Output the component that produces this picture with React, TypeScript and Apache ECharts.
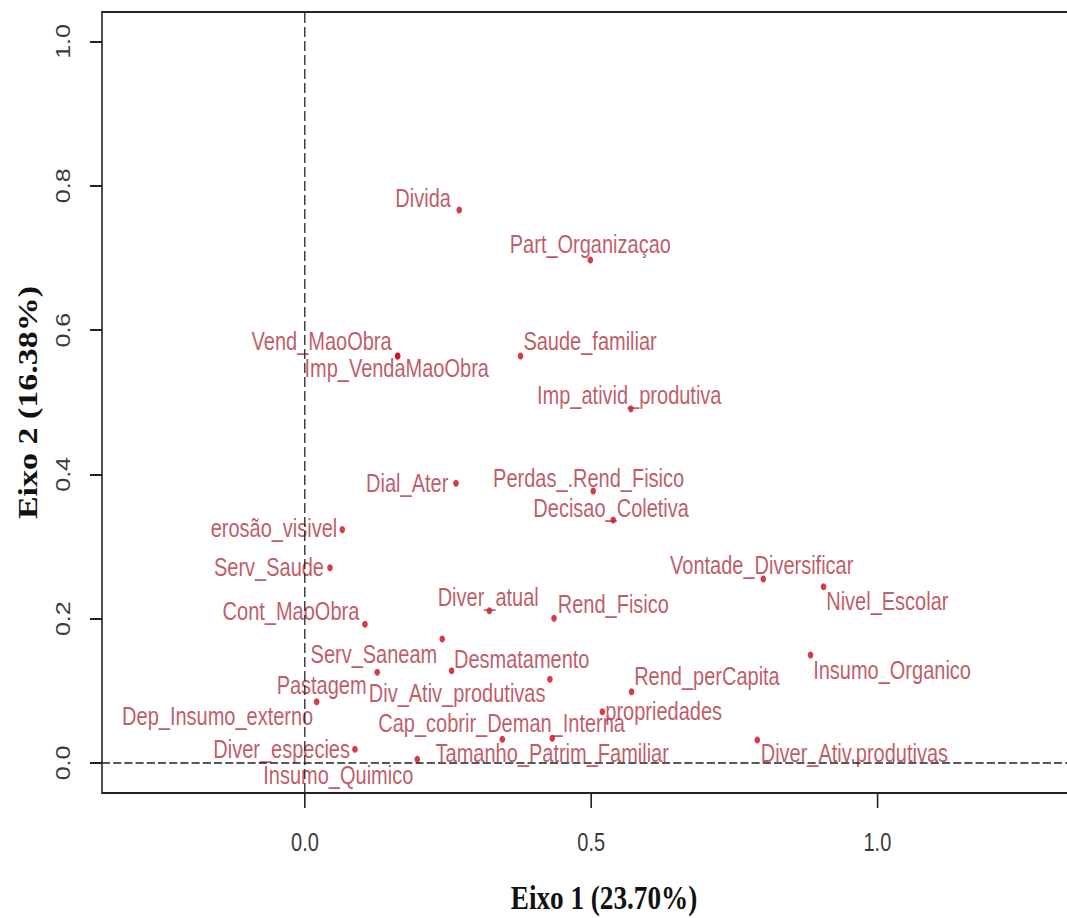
import React, { useEffect, useRef } from "react";
import * as echarts from "echarts";

// ---- data ----
const names = [
  "Divida",
  "Part_Organizaçao",
  "Vend_MaoObra",
  "Imp_VendaMaoObra",
  "Saude_familiar",
  "Imp_ativid_produtiva",
  "Dial_Ater",
  "Perdas_.Rend_Fisico",
  "Decisao_Coletiva",
  "erosão_visivel",
  "Serv_Saude",
  "Vontade_Diversificar",
  "Nivel_Escolar",
  "Cont_MaoObra",
  "Diver_atual",
  "Rend_Fisico",
  "Serv_Saneam",
  "Desmatamento",
  "Insumo_Organico",
  "Pastagem",
  "Div_Ativ_produtivas",
  "Rend_perCapita",
  "Dep_Insumo_externo",
  "Cap_cobrir_Deman_Interna",
  "propriedades",
  "Diver_especies",
  "Tamanho_Patrim_Familiar",
  "Diver_Ativ.produtivas",
  "Insumo_Quimico",
];

const eixo1 = [
  0.2695, 0.4985, 0.1619, 0.1619, 0.3766, 0.5693, 0.2638, 0.5036, 0.5385,
  0.0652, 0.0437, 0.8007, 0.906, 0.1048, 0.3221, 0.4351, 0.2398, 0.2562,
  0.8832, 0.1263, 0.4279, 0.5705, 0.0204, 0.3448, 0.5195, 0.0873, 0.432,
  0.7902, 0.1962,
];

const eixo2 = [
  0.7665, 0.6972, 0.5641, 0.5641, 0.5641, 0.4911, 0.3877, 0.377, 0.3368,
  0.3235, 0.2707, 0.255, 0.2444, 0.1922, 0.2111, 0.2006, 0.1719, 0.1279,
  0.1497, 0.1257, 0.116, 0.0988, 0.085, 0.0328, 0.0711, 0.019, 0.0342,
  0.0319, 0.0051,
];

const xTicks = [0, 0.5, 1.0];
const yTicks = [0, 0.2, 0.4, 0.6, 0.8, 1.0];

const xTitle = "Eixo 1 (23.70%)";
const yTitle = "Eixo 2 (16.38%)";

// ---- label placement (layout only) : [align, dx, dy] in chart px ----
type Align = "left" | "right" | "center";
const labelPlacement: Record<string, [Align, number, number]> = {
  Divida: ["right", -10.4, -11],
  "Part_Organizaçao": ["center", 0, -15],
  Vend_MaoObra: ["right", -7.5, -14.3],
  Imp_VendaMaoObra: ["center", -1.2, 13],
  Saude_familiar: ["left", 3.6, -14.3],
  Imp_ativid_produtiva: ["center", -2, -12.7],
  Dial_Ater: ["right", -9.6, 0.7],
  "Perdas_.Rend_Fisico": ["center", -5.8, -12],
  Decisao_Coletiva: ["center", -2.6, -11],
  "erosão_visivel": ["right", -6.25, -1],
  Serv_Saude: ["right", -7.5, 0],
  Vontade_Diversificar: ["center", -2, -13.3],
  Nivel_Escolar: ["left", 3.3, 15],
  Cont_MaoObra: ["right", -7.1, -12.6],
  Diver_atual: ["center", -1.4, -13.4],
  Rend_Fisico: ["left", 4.7, -13.3],
  Serv_Saneam: ["right", -6.25, 16],
  Desmatamento: ["left", 2.9, -10.7],
  Insumo_Organico: ["left", 3.3, 15.7],
  Pastagem: ["right", -13.3, 13.4],
  Div_Ativ_produtivas: ["right", -5.6, 14],
  Rend_perCapita: ["left", 3.3, -15],
  Dep_Insumo_externo: ["right", -4.25, 15],
  Cap_cobrir_Deman_Interna: ["center", -0.9, -15.3],
  propriedades: ["left", 3.75, 0],
  Diver_especies: ["right", -6.25, 0],
  Tamanho_Patrim_Familiar: ["center", 0, 15],
  "Diver_Ativ.produtivas": ["left", 4.25, 13.3],
  Insumo_Quimico: ["right", -5, 16.7],
};

// the reference picture is horizontally squeezed
const SQUEEZE = 0.8;
const PAGE_W = 1067;
const PAGE_H = 918;
const DOT = 7;

export default function App() {
  const ref = useRef<HTMLDivElement>(null);

  useEffect(() => {
    if (!ref.current) return;
    const chart = echarts.init(ref.current, undefined, { renderer: "svg" });

    const half = DOT / 2;
    const data = names.map((n, i) => {
      const p = labelPlacement[n] || ["left", 4, 0];
      return {
        name: n,
        value: [eixo1[i], eixo2[i]],
        label: { align: p[0], position: [half + p[1], half + p[2]] },
      };
    });

    const tickFont = {
      fontFamily: "Liberation Sans, Arial, sans-serif",
      fontSize: 25,
      color: "#3a3a3a",
    };
    const titleFont = {
      fontFamily: "Liberation Serif, Times New Roman, serif",
      fontWeight: "bold" as const,
      fontSize: 34,
      color: "#111",
    };

    chart.setOption({
      animation: false,
      backgroundColor: "#ffffff",
      grid: {
        left: 127.5,
        top: 12,
        width: 1255,
        height: 781,
        show: true,
        borderColor: "#222",
        borderWidth: 2,
        backgroundColor: "transparent",
        containLabel: false,
        outerBoundsMode: "none",
      },
      xAxis: {
        type: "value",
        min: -0.3546,
        max: 1.3994,
        name: xTitle,
        nameLocation: "middle",
        nameGap: 88,
        nameTextStyle: titleFont,
        axisLine: { show: false, onZero: false },
        splitLine: { show: false },
        axisTick: {
          show: true,
          inside: false,
          length: 15,
          customValues: xTicks,
          lineStyle: { color: "#222", width: 2 },
        },
        axisLabel: {
          ...tickFont,
          margin: 37,
          customValues: xTicks,
          formatter: (v: number) => v.toFixed(1),
        },
      },
      yAxis: {
        type: "value",
        min: -0.04158,
        max: 1.0409,
        name: yTitle,
        nameLocation: "middle",
        nameGap: 75,
        nameTextStyle: titleFont,
        axisLine: { show: false, onZero: false },
        splitLine: { show: false },
        axisTick: {
          show: true,
          inside: false,
          length: 15,
          customValues: yTicks,
          lineStyle: { color: "#222", width: 2 },
        },
        axisLabel: {
          ...tickFont,
          rotate: 90,
          margin: 36,
          customValues: yTicks,
          formatter: (v: number) => v.toFixed(1),
        },
      },
      series: [
        {
          type: "scatter",
          data,
          symbol: "circle",
          symbolSize: DOT,
          itemStyle: { color: "#cc0a1e" },
          label: {
            show: true,
            formatter: "{b}",
            verticalAlign: "middle",
            fontFamily: "Liberation Sans, Arial, sans-serif",
            fontSize: 25,
            color: "#b03040",
          },
          labelLayout: { hideOverlap: false },
          markLine: {
            silent: true,
            symbol: ["none", "none"],
            label: { show: false },
            lineStyle: { color: "#222", type: [10, 4], width: 1.6 },
            data: [{ xAxis: 0 }, { yAxis: 0 }],
          },
        },
      ],
    });

    return () => chart.dispose();
  }, []);

  return (
    <div
      style={{
        position: "absolute",
        left: 0,
        top: 0,
        width: PAGE_W,
        height: PAGE_H,
        overflow: "hidden",
        background: "#fff",
      }}
    >
      <div
        ref={ref}
        style={{
          width: Math.ceil(PAGE_W / SQUEEZE),
          height: PAGE_H,
          transform: `scaleX(${SQUEEZE})`,
          transformOrigin: "0 0",
        }}
      />
    </div>
  );
}
